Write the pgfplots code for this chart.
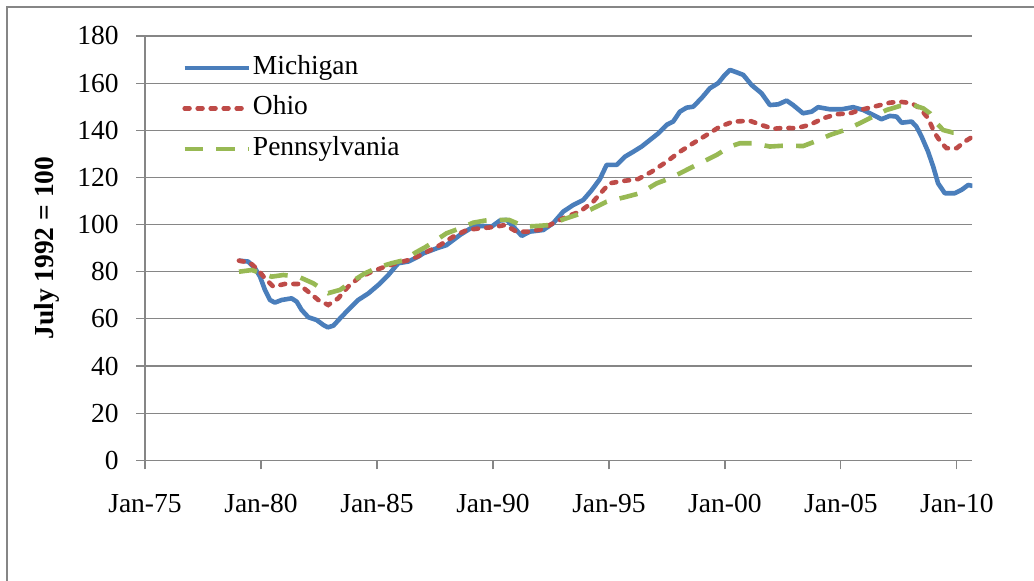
\documentclass[border=0pt]{standalone}
\usepackage{fontspec}
\setmainfont{Liberation Serif}
\usepackage{pgfplots}
\pgfplotsset{compat=1.18}
\definecolor{mich}{HTML}{4A7EBB}
\definecolor{ohio}{HTML}{BE4B48}
\definecolor{penn}{HTML}{98B954}
\definecolor{axgray}{HTML}{868686}
\begin{document}
\begin{tikzpicture}[x=1pt,y=1pt]
\useasboundingbox (0,0) rectangle (517,290.5);
\draw[color=axgray, line width=1pt] (3.5,-20) rectangle (540,287);
\begin{axis}[
  at={(72.5pt,60.35pt)}, anchor=south west,
  scale only axis, width=413.7pt, height=212.15pt,
  xmin=1975, xmax=2010.67, ymin=0, ymax=180,
  xtick={1975,1980,1985,1990,1995,2000,2005,2010},
  xticklabels={Jan-75,Jan-80,Jan-85,Jan-90,Jan-95,Jan-00,Jan-05,Jan-10},
  ytick={0,20,...,180},
  axis x line*=bottom, axis y line*=left,
  axis line style={color=axgray, line width=0.6pt, -},
  tick align=outside, major tick length=4.5pt,
  every tick/.style={color=axgray, line width=0.6pt},
  ymajorgrids, grid style={color=axgray, line width=0.6pt},
  /pgf/number format/assume math mode=true,
  ticklabel style={font=\fontsize{13.75}{16}\selectfont, text=black},
  yticklabel style={anchor=east, inner sep=0pt, xshift=-8.5pt},
  xticklabel style={anchor=north, inner sep=0pt, yshift=-12.5pt},
  ylabel={\textbf{July 1992 = 100}},
  every axis y label/.style={at={(rel axis cs:0,0.5)}, rotate=90, anchor=center, inner sep=0pt, yshift=49.25pt, font=\fontsize{13.75}{16}\selectfont},
  legend image code/.code={\draw[#1] (0pt,0pt) -- (32pt,0pt);},
  legend cell align=left,
  legend style={draw=none, fill=none, at={(0,1)}, anchor=north west, xshift=18.5pt, yshift=-9.5pt,
    inner sep=0pt, row sep=7.75pt, column sep=1pt,
    nodes={inner sep=0pt, text height=9.5pt, text depth=3pt, font=\fontsize{13.75}{16}\selectfont}},
]
\addplot[color=mich, line width=2.3pt, line join=round] coordinates {
(1979.05,84.7) (1979.45,84.3) (1979.74,81.5) (1979.96,77.9) (1980.17,72.3) (1980.39,68.0)
(1980.60,66.9) (1980.89,68.0) (1981.32,68.7) (1981.54,67.3) (1981.75,63.8) (1982.04,60.7)
(1982.40,59.5) (1982.69,57.4) (1982.88,56.4) (1983.12,57.1) (1983.41,60.2) (1983.76,63.8)
(1984.19,68.0) (1984.63,70.8) (1985.06,74.4) (1985.49,78.6) (1985.92,83.6) (1986.35,84.3)
(1986.78,86.4) (1987.00,87.8) (1987.57,89.9) (1988.00,91.3) (1988.58,95.6) (1989.15,99.1)
(1989.58,99.4) (1989.94,99.1) (1990.30,101.7) (1990.59,102.0) (1990.88,99.1) (1991.24,95.2)
(1991.59,97.0) (1992.17,97.7) (1992.60,100.6) (1993.03,105.5) (1993.46,108.3) (1993.89,110.4)
(1994.25,114.5) (1994.61,119.3) (1994.90,125.3) (1995.33,125.3) (1995.69,128.8) (1996.05,130.9)
(1996.41,133.1) (1996.77,135.9) (1997.13,138.7) (1997.49,142.3) (1997.77,143.7) (1998.06,147.9)
(1998.35,149.6) (1998.63,150.0) (1998.99,153.6) (1999.35,157.8) (1999.71,160.0) (2000.00,163.5)
(2000.22,165.6) (2000.50,164.6) (2000.79,163.5) (2001.15,159.2) (2001.58,155.7) (2001.94,150.7)
(2002.30,151.0) (2002.66,152.6) (2002.94,150.7) (2003.37,147.2) (2003.74,147.9) (2004.02,149.8)
(2004.53,148.9) (2005.03,148.9) (2005.53,149.8) (2005.96,148.6) (2006.39,146.5) (2006.75,144.7)
(2007.11,146.1) (2007.40,145.8) (2007.62,143.2) (2008.05,143.7) (2008.26,141.5) (2008.48,137.3)
(2008.76,130.9) (2008.98,124.6) (2009.19,117.5) (2009.48,113.3) (2009.91,113.3) (2010.20,114.7)
(2010.49,116.8) (2010.68,116.4)
};
\addlegendentry{Michigan}
\addplot[color=ohio, line width=2.3pt, line cap=round, dash pattern=on 2.4pt off 4.1pt] coordinates {
(1979.05,84.7) (1979.53,83.8) (1979.88,80.7) (1980.17,77.2) (1980.53,73.7) (1981.03,74.8)
(1981.61,74.8) (1982.04,71.5) (1982.47,68.0) (1982.90,65.9) (1983.33,68.7) (1983.76,73.7)
(1984.19,77.2) (1984.77,80.0) (1985.34,82.1) (1985.92,83.8) (1986.50,85.3) (1987.07,88.0)
(1987.72,91.3) (1988.29,94.9) (1988.87,97.7) (1989.44,98.4) (1990.01,98.9) (1990.52,99.8)
(1991.02,97.0) (1991.52,97.0) (1992.10,98.0) (1992.60,100.6) (1993.18,103.4) (1993.75,105.5)
(1994.32,109.7) (1994.61,113.0) (1995.03,117.5) (1995.62,118.5) (1996.26,119.3) (1996.84,122.4)
(1997.49,126.7) (1998.06,130.9) (1998.63,134.5) (1999.21,138.0) (1999.78,141.5) (2000.36,143.7)
(2001.08,144.0) (2001.65,142.0) (2002.08,140.6) (2002.50,141.0) (2003.09,140.9) (2003.66,142.3)
(2004.24,145.1) (2004.81,146.8) (2005.39,147.2) (2005.96,148.9) (2006.54,150.3) (2007.11,151.7)
(2007.54,152.1) (2008.05,151.5) (2008.41,149.3) (2008.76,145.1) (2009.05,138.7) (2009.34,134.5)
(2009.56,132.4) (2009.99,132.4) (2010.34,135.2) (2010.63,137.0)
};
\addlegendentry{Ohio}
\addplot[color=penn, line width=2.3pt, dash pattern=on 9.2pt off 6.6pt] coordinates {
(1979.05,80.0) (1979.60,80.7) (1980.03,79.3) (1980.46,77.9) (1980.96,78.6) (1981.61,77.9)
(1982.25,75.1) (1982.90,70.9) (1983.41,72.3) (1983.91,75.8) (1984.48,79.3) (1985.06,81.9)
(1985.63,83.6) (1986.21,85.0) (1986.64,88.0) (1987.10,90.5) (1988.00,96.3) (1988.58,98.4)
(1989.15,100.8) (1989.66,101.7) (1990.30,102.0) (1990.69,102.0) (1991.02,100.6) (1991.38,99.1)
(1991.88,99.4) (1992.46,99.8) (1993.03,102.2) (1993.61,104.1) (1994.18,106.2) (1994.90,109.7)
(1995.76,111.8) (1996.34,113.3) (1997.06,117.5) (1997.63,119.6) (1998.35,123.2) (1999.06,126.7)
(1999.64,129.5) (2000.22,133.1) (2000.65,134.5) (2001.22,134.5) (2001.94,133.1) (2002.59,133.5)
(2003.37,133.3) (2003.88,135.2) (2004.53,138.0) (2005.17,140.1) (2005.82,143.0) (2006.39,145.8)
(2006.97,148.6) (2007.54,150.3) (2008.12,150.7) (2008.55,149.3) (2008.84,147.2) (2009.13,143.0)
(2009.41,140.1) (2009.84,139.0) (2010.25,139.0)
};
\addlegendentry{Pennsylvania}
\end{axis}
\end{tikzpicture}
\end{document}
